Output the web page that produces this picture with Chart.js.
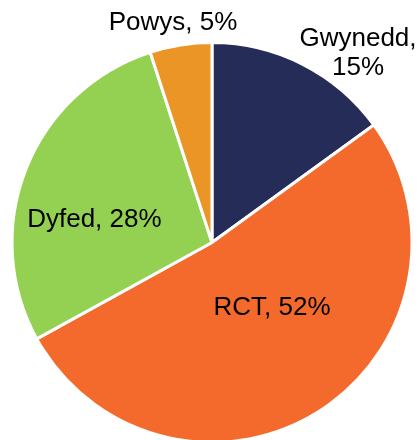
<!DOCTYPE html>
<html>
<head>
<meta charset="utf-8">
<script src="https://cdn.jsdelivr.net/npm/chart.js@4/dist/chart.umd.min.js"></script>
<style>
html,body{margin:0;padding:0;background:#fff;width:419px;height:440px;overflow:hidden;}
canvas{display:block;}
</style>
</head>
<body>
<canvas id="c" width="419" height="484"></canvas>
<script>
const categories = ["Gwynedd", "RCT", "Dyfed", "Powys"];
const shares = [15, 52, 28, 5];
const sliceColors = ["#262C58", "#F36A2C", "#94D153", "#EB9527"];

// label anchor offsets relative to pie centre, in units of the pie radius
const labelLayout = [
  {dx: 0.73, dy: -0.985, lines: 2},
  {dx: 0.30, dy: 0.363, lines: 1},
  {dx: -0.588, dy: -0.078, lines: 1},
  {dx: -0.195, dy: -1.064, lines: 1}
];

const labelPlugin = {
  id: 'sliceLabels',
  afterDatasetsDraw(chart) {
    const ctx = chart.ctx;
    const meta = chart.getDatasetMeta(0);
    ctx.save();
    ctx.font = '26px "Liberation Sans", Arial, sans-serif';
    ctx.fillStyle = '#000';
    ctx.textAlign = 'center';
    ctx.textBaseline = 'alphabetic';
    meta.data.forEach((arc, i) => {
      const R = arc.outerRadius;
      const L = labelLayout[i];
      const x = arc.x + L.dx * R;
      const y = arc.y + L.dy * R;
      const name = categories[i] + ',';
      const pct = shares[i] + '%';
      if (L.lines === 2) {
        ctx.fillText(name, x, y);
        ctx.fillText(pct, x, y + 29);
      } else {
        ctx.fillText(name + ' ' + pct, x, y);
      }
    });
    ctx.restore();
  }
};

new Chart(document.getElementById('c'), {
  type: 'pie',
  data: {
    labels: categories,
    datasets: [{
      data: shares,
      backgroundColor: sliceColors,
      borderColor: '#ffffff',
      borderWidth: 3
    }]
  },
  options: {
    responsive: false,
    animation: false,
    devicePixelRatio: 1,
    layout: {padding: {left: 10, right: 5, top: 41, bottom: 40}},
    plugins: {legend: {display: false}, tooltip: {enabled: false}}
  },
  plugins: [labelPlugin]
});
</script>
</body>
</html>
